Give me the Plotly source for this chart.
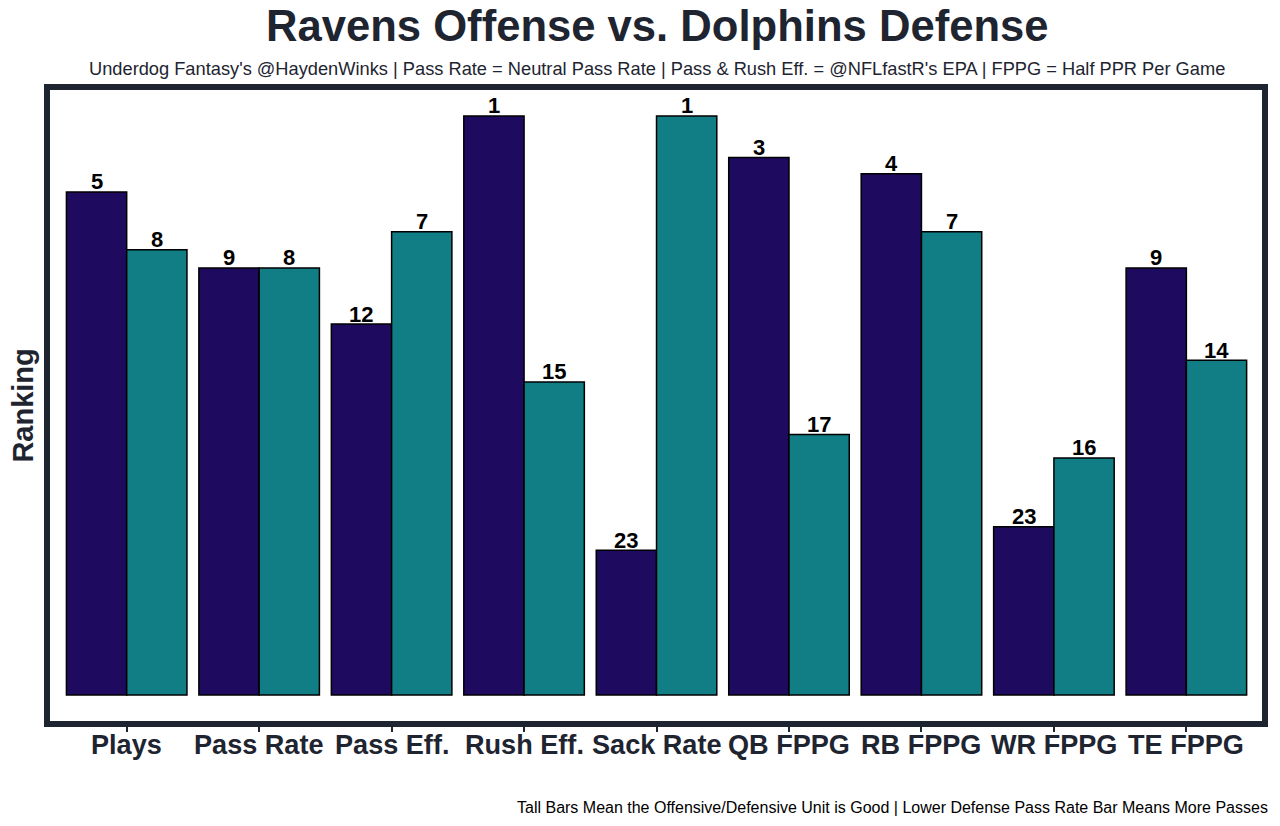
import plotly.graph_objects as go

categories = ["Plays", "Pass Rate", "Pass Eff.", "Rush Eff.", "Sack Rate",
              "QB FPPG", "RB FPPG", "WR FPPG", "TE FPPG"]
offense_rank = [5, 9, 12, 1, 23, 3, 4, 23, 9]
defense_rank = [8, 8, 7, 15, 1, 17, 7, 16, 14]
# bar heights (arbitrary score units, rank 1 ~ 32)
offense_height = [27.8, 23.6, 20.5, 32.0, 8.0, 29.7, 28.8, 9.3, 23.6]
defense_height = [24.6, 23.6, 25.6, 17.3, 32.0, 14.4, 25.6, 13.1, 18.5]

title = "Ravens Offense vs. Dolphins Defense"
subtitle = ("Underdog Fantasy's @HaydenWinks | Pass Rate = Neutral Pass Rate | "
            "Pass & Rush Eff. = @NFLfastR's EPA | FPPG = Half PPR Per Game")
caption = ("Tall Bars Mean the Offensive/Defensive Unit is Good | "
           "Lower Defense Pass Rate Bar Means More Passes")
y_title = "Ranking"

FONT = "Liberation Sans, Arial, Helvetica, sans-serif"
DARK = "#1e2430"
OFF_COLOR = "#1e0a5e"
DEF_COLOR = "#107e84"

BARGAP = 0.09
half = (1 - BARGAP) / 4  # offset of each bar centre from category centre

fig = go.Figure()
fig.add_trace(go.Bar(
    x=categories, y=offense_height, name="Offense",
    marker=dict(color=OFF_COLOR, line=dict(color="black", width=1.5)),
    hoverinfo="skip",
))
fig.add_trace(go.Bar(
    x=categories, y=defense_height, name="Defense",
    marker=dict(color=DEF_COLOR, line=dict(color="black", width=1.5)),
    hoverinfo="skip",
))

W, H = 1280, 826
plot_l, plot_r, plot_t, plot_b = 50, 1267, 90, 721  # px
ml, mt = plot_l, plot_t
mr, mb = W - plot_r, H - plot_b
ph = plot_b - plot_t
pw = plot_r - plot_l

def py(p):
    return (plot_b - p) / ph

def px(p):
    return (p - plot_l) / pw

annotations = [
    dict(text=title, xref="paper", yref="paper", x=px(660), y=py(25.5),
         xanchor="center", yanchor="middle", showarrow=False,
         font=dict(family=FONT, size=43.6, color=DARK, weight="bold")),
    dict(text=subtitle, xref="paper", yref="paper", x=px(660), y=py(68),
         xanchor="center", yanchor="middle", showarrow=False,
         font=dict(family=FONT, size=18.25, color=DARK)),
    dict(text=caption, xref="paper", yref="paper", x=px(1275), y=py(807),
         xanchor="right", yanchor="middle", showarrow=False,
         font=dict(family=FONT, size=16, color="black")),
    dict(text=y_title, xref="paper", yref="paper", x=px(22), y=0.5,
         xanchor="center", yanchor="middle", showarrow=False, textangle=-90,
         font=dict(family=FONT, size=29, color=DARK, weight="bold")),
]
for i, cat in enumerate(categories):
    annotations.append(dict(
        text=cat, xref="x", yref="paper", x=i, y=py(744),
        xanchor="center", yanchor="middle", showarrow=False,
        font=dict(family=FONT, size=27.1, color=DARK, weight="bold")))
    for shift, hgt, rk in ((-half, offense_height[i], offense_rank[i]),
                           (half, defense_height[i], defense_rank[i])):
        annotations.append(dict(
            text=str(rk), xref="x", yref="y", x=i + shift, y=hgt,
            xanchor="center", yanchor="middle", yshift=10, showarrow=False,
            font=dict(family=FONT, size=22, color="black", weight="bold")))

fig.update_layout(
    width=W, height=H,
    margin=dict(l=ml, r=mr, t=mt, b=mb),
    paper_bgcolor="white", plot_bgcolor="white",
    barmode="group", bargap=BARGAP, bargroupgap=0,
    showlegend=False, hovermode=False,
    font=dict(family=FONT, color=DARK),
    xaxis=dict(
        range=[-0.579, 8.571], showgrid=False, zeroline=False,
        showline=True, mirror=True, linecolor=DARK, linewidth=6,
        ticks="outside", ticklen=5, tickwidth=2, tickcolor=DARK,
        showticklabels=False,
    ),
    yaxis=dict(
        range=[-1.436, 33.43], showgrid=False, zeroline=False,
        showline=True, mirror=True, linecolor=DARK, linewidth=6,
        showticklabels=False, ticks="",
    ),
    annotations=annotations,
)

fig.write_html("out.html",
               config={"displayModeBar": False, "staticPlot": True},
               post_script="document.body.style.margin='0';"
                           "document.body.style.overflow='hidden';")
